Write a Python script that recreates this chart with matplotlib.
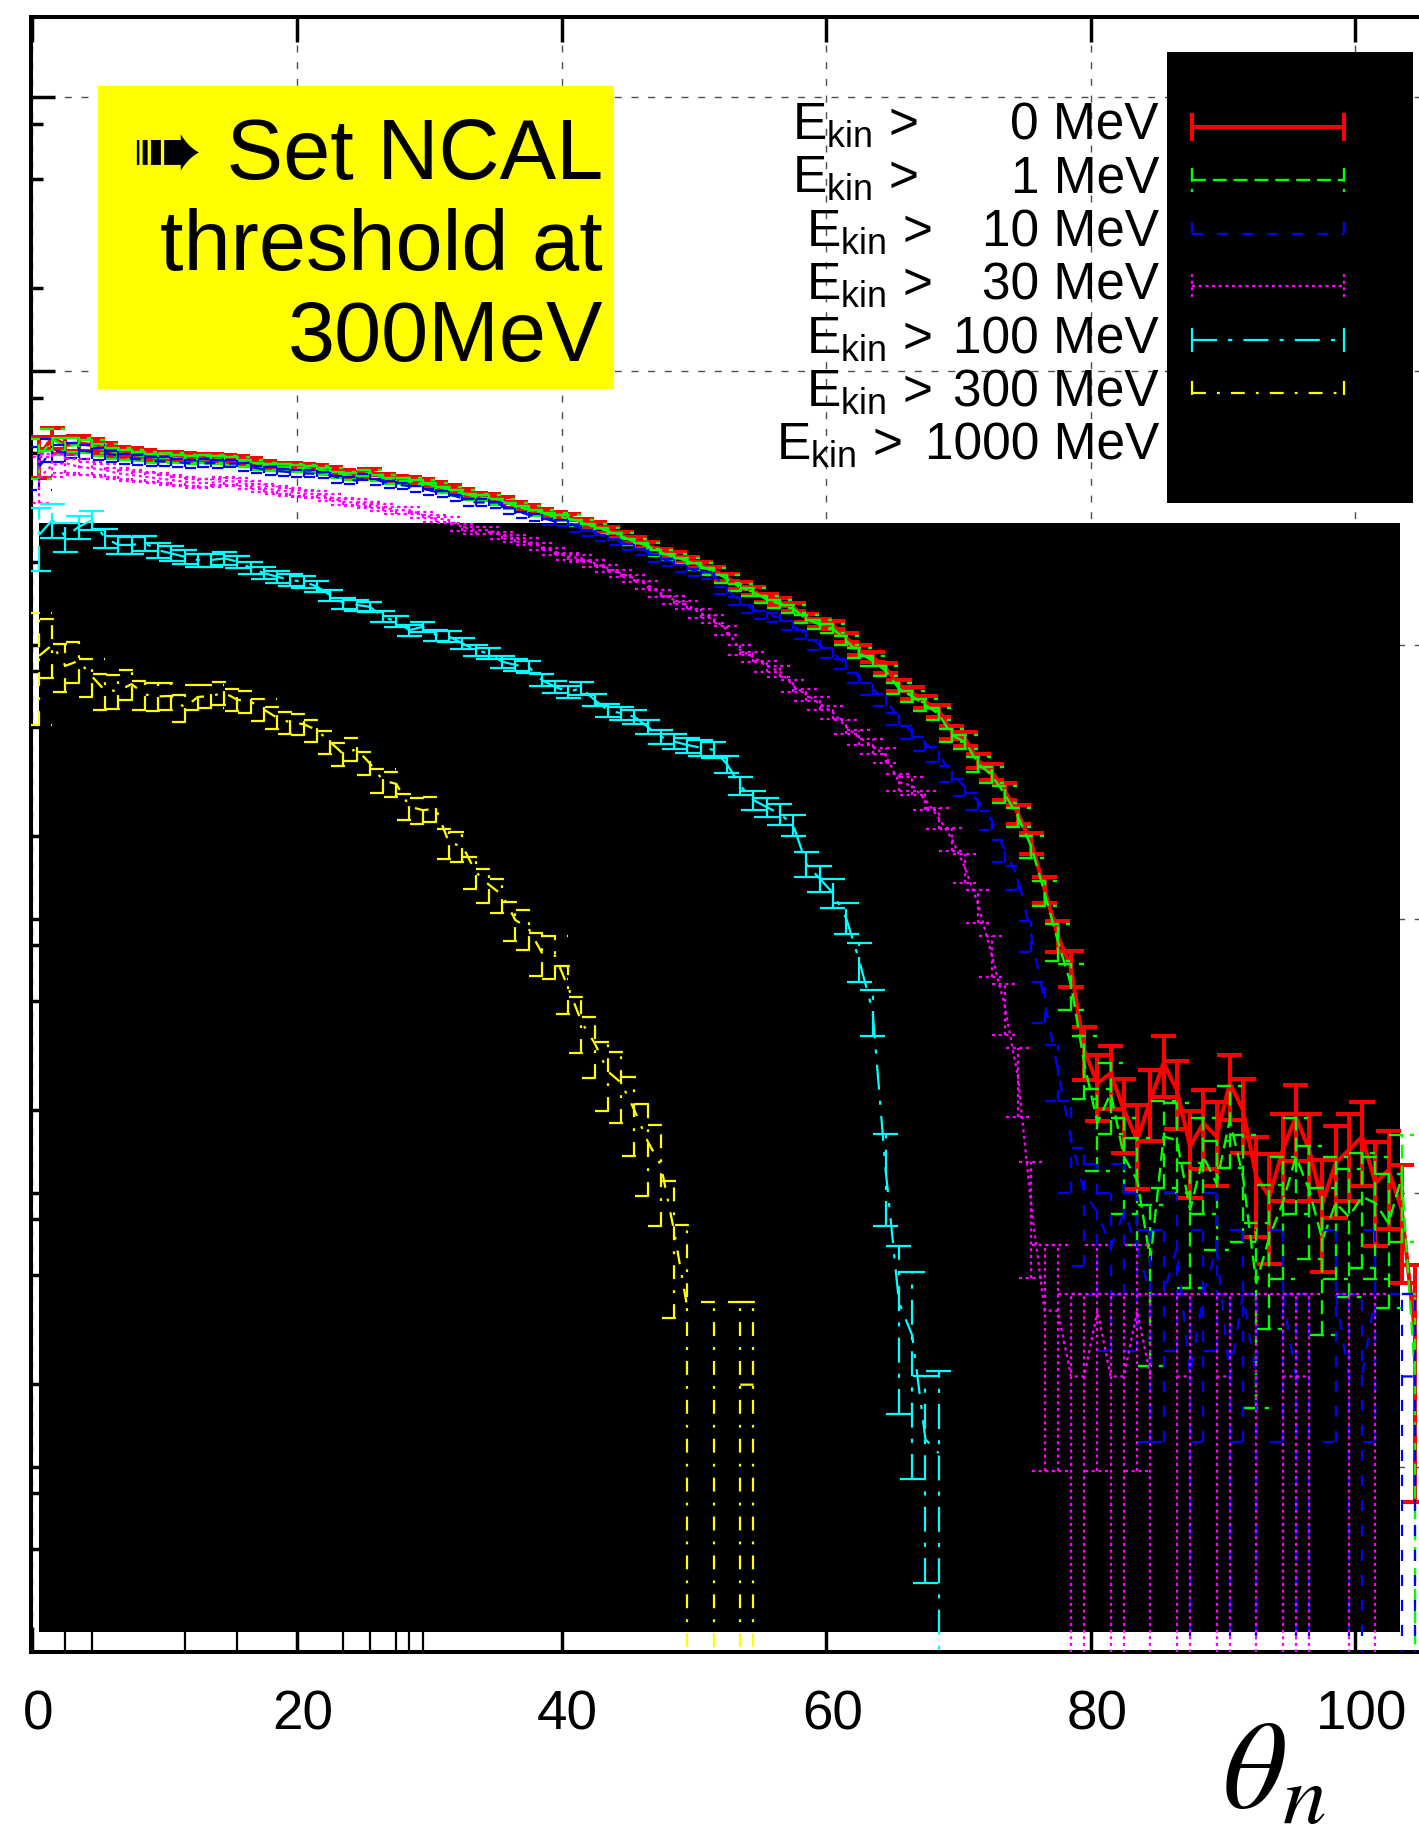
import numpy as np
import matplotlib
matplotlib.use("Agg")
import matplotlib.pyplot as plt
from matplotlib.patches import Rectangle
from matplotlib.lines import Line2D
from matplotlib.collections import LineCollection
from matplotlib.ticker import FixedLocator, NullFormatter, NullLocator
from matplotlib.transforms import ScaledTranslation

plt.rcParams['font.family'] = ['Liberation Sans', 'DejaVu Sans']
plt.rcParams['lines.scale_dashes'] = False

W, H = 1419, 1836
EMPTY = -np.inf  # empty bin (log10 of zero)

# histogram contents, log10 of the bin value, 1 degree bins starting at theta = 0
red_log = [3.69, 3.755, 3.73, 3.736, 3.73, 3.717, 3.705, 3.70, 3.693, 3.687,
           3.689, 3.684, 3.681, 3.684, 3.681, 3.677, 3.669, 3.657, 3.653, 3.653,
           3.650, 3.645, 3.638, 3.626, 3.620, 3.632, 3.614, 3.604, 3.602, 3.596,
           3.584, 3.572, 3.559, 3.543, 3.541, 3.529, 3.511, 3.499, 3.486, 3.474,
           3.468, 3.450, 3.438, 3.419, 3.401, 3.383, 3.365, 3.340, 3.328, 3.310,
           3.292, 3.273, 3.245, 3.216, 3.197, 3.171, 3.157, 3.138, 3.099, 3.080,
           3.073, 3.027, 2.981, 2.956, 2.916, 2.851, 2.825, 2.792, 2.760, 2.682,
           2.657, 2.577, 2.538, 2.467, 2.383, 2.277, 2.108, 1.939, 1.821, 1.520,
           1.400, 1.437, 1.302, 1.193, 1.339, 1.474, 1.375, 1.169, 1.255, 1.205,
           1.401, 1.302, 1.059, 0.986, 1.157, 1.278, 1.157, 0.963, 1.109, 1.157,
           1.205, 1.036, 1.084, 0.938, 0.490]
red_rel = [0.17, 0.09, 0.07, 0.06, 0.053, 0.048, 0.045, 0.042, 0.040, 0.038,
           0.037, 0.035, 0.034, 0.033, 0.032, 0.031, 0.030, 0.030, 0.029, 0.028,
           0.028, 0.027, 0.027, 0.027, 0.026, 0.026, 0.026, 0.026, 0.025, 0.025,
           0.025, 0.025, 0.025, 0.025, 0.025, 0.025, 0.025, 0.025, 0.025, 0.025,
           0.025, 0.025, 0.025, 0.025, 0.025, 0.026, 0.026, 0.026, 0.027, 0.027,
           0.028, 0.029, 0.030, 0.030, 0.031, 0.032, 0.033, 0.034, 0.035, 0.035,
           0.036, 0.038, 0.040, 0.041, 0.043, 0.046, 0.047, 0.049, 0.051, 0.055,
           0.057, 0.062, 0.065, 0.070, 0.078, 0.088, 0.105, 0.13, 0.15, 0.22,
           0.27, 0.26, 0.30, 0.34, 0.29, 0.25, 0.28, 0.35, 0.32, 0.34,
           0.27, 0.30, 0.40, 0.43, 0.35, 0.31, 0.35, 0.44, 0.37, 0.35,
           0.34, 0.41, 0.39, 0.46, 0.76]

green_log = [3.685, 3.750, 3.725, 3.731, 3.725, 3.712, 3.700, 3.695, 3.688, 3.682,
             3.684, 3.679, 3.676, 3.679, 3.676, 3.672, 3.664, 3.652, 3.648, 3.648,
             3.645, 3.640, 3.633, 3.621, 3.615, 3.627, 3.609, 3.599, 3.597, 3.591,
             3.580, 3.566, 3.555, 3.540, 3.535, 3.523, 3.507, 3.495, 3.480, 3.470,
             3.462, 3.446, 3.432, 3.415, 3.397, 3.377, 3.361, 3.336, 3.322, 3.306,
             3.287, 3.268, 3.241, 3.210, 3.193, 3.166, 3.151, 3.133, 3.094, 3.075,
             3.060, 3.016, 2.970, 2.943, 2.905, 2.840, 2.812, 2.781, 2.748, 2.671,
             2.645, 2.566, 2.525, 2.455, 2.372, 2.264, 2.096, 1.920, 1.760, 1.473,
             1.255, 1.364, 1.132, 1.047, 0.755, 1.205, 1.193, 0.938, 1.132, 1.035,
             1.266, 1.059, 0.671, 0.840, 0.963, 1.132, 1.011, 0.828, 0.963, 0.913,
             0.986, 0.963, 0.889, 1.059, 0.330]
green_rel = [0.17, 0.09, 0.07, 0.06, 0.053, 0.048, 0.045, 0.042, 0.040, 0.038,
             0.037, 0.035, 0.034, 0.033, 0.032, 0.031, 0.030, 0.030, 0.029, 0.028,
             0.028, 0.027, 0.027, 0.027, 0.026, 0.026, 0.026, 0.026, 0.025, 0.025,
             0.025, 0.025, 0.025, 0.025, 0.025, 0.025, 0.025, 0.025, 0.025, 0.025,
             0.025, 0.025, 0.025, 0.025, 0.026, 0.026, 0.026, 0.027, 0.027, 0.027,
             0.028, 0.029, 0.030, 0.031, 0.031, 0.032, 0.033, 0.034, 0.035, 0.036,
             0.037, 0.038, 0.040, 0.042, 0.044, 0.046, 0.048, 0.050, 0.052, 0.056,
             0.058, 0.063, 0.066, 0.071, 0.079, 0.090, 0.107, 0.155, 0.19, 0.26,
             0.33, 0.29, 0.38, 0.42, 0.59, 0.35, 0.36, 0.48, 0.38, 0.43,
             0.33, 0.42, 0.65, 0.54, 0.47, 0.38, 0.44, 0.55, 0.47, 0.49,
             0.45, 0.47, 0.51, 0.42, 1.0]

blue_log = [3.650, 3.711, 3.700, 3.710, 3.705, 3.699, 3.690, 3.680, 3.675, 3.670,
            3.669, 3.665, 3.660, 3.665, 3.660, 3.663, 3.650, 3.640, 3.635, 3.630,
            3.626, 3.625, 3.620, 3.605, 3.600, 3.614, 3.595, 3.585, 3.580, 3.570,
            3.559, 3.550, 3.535, 3.520, 3.520, 3.511, 3.490, 3.475, 3.465, 3.450,
            3.446, 3.425, 3.410, 3.390, 3.375, 3.358, 3.340, 3.315, 3.300, 3.280,
            3.265, 3.255, 3.200, 3.160, 3.130, 3.110, 3.100, 3.070, 3.040, 3.000,
            2.970, 2.930, 2.880, 2.840, 2.800, 2.730, 2.680, 2.640, 2.600, 2.530,
            2.480, 2.430, 2.360, 2.250, 2.150, 1.940, 1.700, 1.450, 1.200, 1.000,
            0.93, 0.80, 0.93, 0.80, 0.63, 0.63, 0.80, 0.33, 0.63, 0.80,
            0.33, 0.63, 0.33, EMPTY, 0.63, 0.33, 0.33, EMPTY, 0.63, 0.33,
            0.33, 0.63, EMPTY, 0.33, 0.33]
blue_rel = [0.18, 0.095, 0.072, 0.062, 0.055, 0.05, 0.046, 0.043, 0.041, 0.039,
            0.038, 0.036, 0.035, 0.034, 0.033, 0.032, 0.031, 0.031, 0.030, 0.029,
            0.029, 0.028, 0.028, 0.028, 0.027, 0.027, 0.027, 0.027, 0.026, 0.026,
            0.026, 0.026, 0.026, 0.026, 0.026, 0.026, 0.026, 0.026, 0.026, 0.026,
            0.026, 0.026, 0.026, 0.027, 0.027, 0.027, 0.027, 0.028, 0.028, 0.029,
            0.029, 0.030, 0.031, 0.033, 0.034, 0.035, 0.036, 0.037, 0.038, 0.040,
            0.041, 0.043, 0.045, 0.047, 0.049, 0.053, 0.056, 0.058, 0.061, 0.066,
            0.069, 0.073, 0.080, 0.090, 0.10, 0.13, 0.17, 0.23, 0.37, 0.46,
            0.50, 0.58, 0.50, 0.58, 0.71, 0.71, 0.58, 1.0, 0.71, 0.58,
            1.0, 0.71, 1.0, 0.0, 0.71, 1.0, 1.0, 0.0, 0.71, 1.0,
            1.0, 0.71, 0.0, 1.0, 1.0]

magenta_log = [3.609, 3.657, 3.664, 3.650, 3.645, 3.638, 3.626, 3.620, 3.614, 3.608,
               3.602, 3.596, 3.590, 3.592, 3.599, 3.596, 3.584, 3.572, 3.565, 3.559,
               3.553, 3.550, 3.539, 3.523, 3.519, 3.511, 3.502, 3.492, 3.492, 3.474,
               3.462, 3.456, 3.429, 3.419, 3.419, 3.401, 3.389, 3.377, 3.358, 3.340,
               3.322, 3.316, 3.298, 3.280, 3.261, 3.243, 3.219, 3.188, 3.164, 3.146,
               3.115, 3.095, 3.054, 2.981, 2.956, 2.923, 2.903, 2.851, 2.819, 2.786,
               2.753, 2.701, 2.662, 2.630, 2.597, 2.499, 2.486, 2.434, 2.369, 2.291,
               2.186, 2.050, 1.870, 1.680, 1.420, 0.950, 0.570, 0.570, 0.330, 0.330,
               0.570, 0.330, 0.330, 0.570, 0.330, EMPTY, 0.330, 0.330, EMPTY, 0.330,
               0.330, EMPTY, 0.330, EMPTY, 0.330, 0.330, 0.330, EMPTY, EMPTY, 0.330,
               EMPTY, 0.330, EMPTY, EMPTY, EMPTY]
magenta_rel = [0.19, 0.10, 0.078, 0.066, 0.058, 0.053, 0.049, 0.046, 0.044, 0.042,
               0.040, 0.039, 0.037, 0.036, 0.035, 0.034, 0.033, 0.033, 0.032, 0.031,
               0.031, 0.030, 0.030, 0.030, 0.029, 0.029, 0.029, 0.029, 0.028, 0.028,
               0.028, 0.028, 0.028, 0.028, 0.028, 0.029, 0.029, 0.029, 0.029, 0.029,
               0.030, 0.030, 0.030, 0.031, 0.031, 0.031, 0.032, 0.033, 0.034, 0.035,
               0.036, 0.037, 0.039, 0.042, 0.043, 0.045, 0.046, 0.049, 0.051, 0.053,
               0.055, 0.058, 0.061, 0.063, 0.066, 0.074, 0.075, 0.080, 0.086, 0.094,
               0.12, 0.14, 0.17, 0.21, 0.28, 0.45, 0.74, 0.74, 1.0, 1.0,
               0.74, 1.0, 1.0, 0.74, 1.0, 0.0, 1.0, 1.0, 0.0, 1.0,
               1.0, 0.0, 1.0, 0.0, 1.0, 1.0, 1.0, 0.0, 0.0, 1.0,
               0.0, 1.0, 0.0, 0.0, 0.0]

cyan_log = [3.401, 3.456, 3.395, 3.431, 3.456, 3.390, 3.365, 3.365, 3.371, 3.346,
            3.334, 3.322, 3.310, 3.310, 3.316, 3.304, 3.281, 3.262, 3.249, 3.237,
            3.231, 3.213, 3.182, 3.153, 3.146, 3.139, 3.103, 3.085, 3.054, 3.066,
            3.036, 3.030, 3.006, 2.981, 2.969, 2.939, 2.927, 2.920, 2.872, 2.847,
            2.829, 2.842, 2.799, 2.762, 2.750, 2.738, 2.701, 2.665, 2.647, 2.635,
            2.625, 2.617, 2.565, 2.486, 2.434, 2.408, 2.383, 2.343, 2.201, 2.147,
            2.095, 2.004, 1.847, 1.665, 1.080, 0.600, 0.480, 0.100, 0.050]
cyan_rel = [0.26, 0.14, 0.12, 0.096, 0.083, 0.08, 0.075, 0.07, 0.065, 0.063,
            0.06, 0.058, 0.056, 0.054, 0.052, 0.051, 0.05, 0.05, 0.049, 0.048,
            0.048, 0.047, 0.047, 0.047, 0.046, 0.046, 0.046, 0.046, 0.045, 0.045,
            0.046, 0.046, 0.047, 0.047, 0.048, 0.048, 0.049, 0.049, 0.05, 0.05,
            0.051, 0.052, 0.053, 0.054, 0.055, 0.056, 0.058, 0.06, 0.062, 0.063,
            0.065, 0.066, 0.07, 0.075, 0.08, 0.083, 0.085, 0.09, 0.105, 0.11,
            0.12, 0.13, 0.16, 0.19, 0.37, 0.61, 0.70, 0.70, 1.0]

yellow_log = [2.960, 3.000, 2.924, 2.942, 2.885, 2.833, 2.833, 2.857, 2.819, 2.812,
              2.814, 2.771, 2.810, 2.814, 2.825, 2.800, 2.793, 2.764, 2.734, 2.717,
              2.711, 2.689, 2.646, 2.602, 2.620, 2.568, 2.505, 2.493, 2.410, 2.397,
              2.402, 2.277, 2.266, 2.172, 2.125, 2.088, 1.996, 1.965, 1.877, 1.866,
              1.749, 1.624, 1.546, 1.443, 1.402, 1.302, 1.188, 1.101, 0.861, 0.580,
              EMPTY, 0.300, EMPTY, 0.300, 0.300, EMPTY]
yellow_rel = [0.44, 0.24, 0.20, 0.17, 0.158, 0.15, 0.14, 0.126, 0.124, 0.118,
              0.112, 0.113, 0.104, 0.10, 0.095, 0.094, 0.092, 0.093, 0.093, 0.093,
              0.091, 0.092, 0.094, 0.097, 0.093, 0.097, 0.102, 0.102, 0.11, 0.11,
              0.108, 0.123, 0.123, 0.135, 0.141, 0.145, 0.16, 0.164, 0.179, 0.18,
              0.20, 0.23, 0.25, 0.28, 0.29, 0.32, 0.37, 0.40, 0.52, 1.0,
              0.0, 1.0, 0.0, 1.0, 1.0, 0.0]

black_log = [EMPTY, EMPTY, 0.33, EMPTY, 0.33, EMPTY, EMPTY, EMPTY, EMPTY, EMPTY,
             EMPTY, 0.33, EMPTY, EMPTY, EMPTY, 0.33, EMPTY, EMPTY, EMPTY, EMPTY,
             EMPTY, EMPTY, EMPTY, 0.33, EMPTY, 0.33, EMPTY, 0.33, 0.33, 0.33]
black_rel = [0, 0, 1.0, 0, 1.0, 0, 0, 0, 0, 0,
             0, 1.0, 0, 0, 0, 1.0, 0, 0, 0, 0,
             0, 0, 0, 1.0, 0, 1.0, 0, 1.0, 1.0, 1.0]

thresholds = [0, 1, 10, 30, 100, 300, 1000]

# the solid black block drawn over the lower part of the frame
mask_x = [0.5, 103.4]
mask_y = [0.25, 2790.0]

Y_MIN, Y_MAX = 10 ** -0.674, 10 ** 5.292
FLOOR = 10 ** -0.8      # error bars reaching zero run to the bottom of the frame
CAP_HALF = 0.95         # half width of the error bar caps, in degrees

# contents, rel. errors, colour, line width, line style
series = [
    (red_log, red_rel, '#ff0000', 2.9, '-'),
    (green_log, green_rel, '#00ff00', 1.7, (0, (10, 5))),
    (blue_log, blue_rel, '#0000ff', 1.6, (0, (8, 10))),
    (magenta_log, magenta_rel, '#ff00ff', 1.6, (0, (2.2, 2.6))),
    (cyan_log, cyan_rel, '#00ffff', 1.6, (0, (18, 8, 3, 8))),
    (yellow_log, yellow_rel, '#ffff00', 1.6, (0, (10, 8, 2, 8))),
    (black_log, black_rel, '#000000', 1.6, '-'),
]


def fx(px):
    return px / W


def fy(py):
    return 1 - py / H


fig = plt.figure(figsize=(W / 100, H / 100), dpi=100)
ax = fig.add_axes([fx(31.3), fy(1651.5), (1422 - 31.3) / W, (1651.5 - 17) / H])
ax.set_facecolor('white')
ax.set_axisbelow(True)
ax.set_yscale('log')

ax.fill_between(mask_x, mask_y[0], mask_y[1], color='black', lw=0, zorder=1)

for i, (logs, rel, col, lw, ls) in enumerate(series):
    vals = np.power(10.0, np.array(logs, dtype=float))
    errs = vals * np.array(rel, dtype=float)
    centres = np.arange(len(vals)) + 0.5
    z = 3 + 0.1 * i
    lo = vals - errs
    hi = vals + errs
    bars, caps = [], []
    for xc, e, a, b in zip(centres, errs, lo, hi):
        if e <= 0:
            continue
        bars.append([(xc, max(a, FLOOR)), (xc, b)])
        caps.append([(xc - CAP_HALF, b), (xc + CAP_HALF, b)])
        if a > 0:
            caps.append([(xc - CAP_HALF, a), (xc + CAP_HALF, a)])
    ax.add_collection(LineCollection(bars, colors=col, linewidths=lw, linestyles=[ls], zorder=z))
    ax.add_collection(LineCollection(caps, colors=col, linewidths=lw, linestyles=[ls], zorder=z))
    drawn = np.where(vals > 0, vals, np.nan)
    ax.plot(centres, drawn, color=col, lw=lw, ls=ls, zorder=z)

ax.set_xlim(-0.083, 105.03)
ax.set_ylim(Y_MIN, Y_MAX)

ax.yaxis.set_major_locator(FixedLocator([10.0 ** e for e in range(0, 6)]))
ax.yaxis.set_minor_locator(FixedLocator([m * 10.0 ** e for e in range(-1, 6) for m in (2, 5, 8)]))
ax.yaxis.set_major_formatter(NullFormatter())
ax.yaxis.set_minor_formatter(NullFormatter())
ax.set_xticks([0, 20, 40, 60, 80, 100])
ax.set_xticklabels(['0', '20', '40', '60', '80', '100'])
ax.xaxis.set_minor_locator(NullLocator())

ax.tick_params(axis='y', which='both', direction='in', left=True, right=False, labelleft=False, width=2.5)
ax.tick_params(axis='y', which='major', length=17.3)
ax.tick_params(axis='y', which='minor', length=8.6)
ax.tick_params(axis='x', which='major', direction='in', top=True, bottom=True,
               length=18, width=2.5, labelsize=39.5, pad=27)
offset = ScaledTranslation(6 / 100, 0, fig.dpi_scale_trans)
for lbl in ax.get_xticklabels():
    lbl.set_transform(lbl.get_transform() + offset)

ax.grid(True, which='major', color='0.3', lw=1.0, ls=(0, (5, 7)))
for s in ax.spines.values():
    s.set_linewidth(2.9)
ax.spines['right'].set_visible(False)

# yellow note box
fig.add_artist(Rectangle((fx(98), fy(389)), (614 - 98) / W, (389 - 86) / H,
                         transform=fig.transFigure, facecolor='#ffff00', edgecolor='none'))
note_lines = ['\u27a0 Set NCAL', 'threshold at', '300MeV']
note_base = [178.6, 270, 361]
for txt, yb in zip(note_lines, note_base):
    fig.text(fx(603), fy(yb), txt, fontsize=61, ha='right', va='baseline',
             family=['Liberation Sans', 'DejaVu Sans'])

# legend
fig.add_artist(Rectangle((fx(1166.5), fy(502.5)), (1413 - 1166.5) / W, (502.5 - 52.5) / H,
                         transform=fig.transFigure, facecolor='black', edgecolor='none'))
row_base = [139.3, 192.9, 246.3, 299.9, 353.4, 406.8, 460.0]
ekin_right = [918, 918, 932, 932, 932, 932, 902]
sample_y = [127, 180, 234, 286, 340, 393, 446]
for i, thr in enumerate(thresholds):
    fig.text(fx(ekin_right[i]), fy(row_base[i]), r'$\mathregular{E_{kin}}$ >',
             fontsize=37, ha='right', va='baseline')
    fig.text(fx(1159), fy(row_base[i]), f'{thr} MeV', fontsize=37, ha='right', va='baseline')
    _, _, col, lw, ls = series[i]
    yc = sample_y[i]
    fig.add_artist(Line2D([fx(1192), fx(1344)], [fy(yc), fy(yc)], color=col, lw=lw, ls=ls))
    for xe in (1192, 1344):
        fig.add_artist(Line2D([fx(xe), fx(xe)], [fy(yc - 12), fy(yc + 12)], color=col, lw=lw, ls=ls))

fig.text(fx(1222), fy(1808), r'$\theta_{n}$', fontsize=90, math_fontfamily='stix',
         ha='left', va='baseline')

fig.savefig('out.png', dpi=100)
